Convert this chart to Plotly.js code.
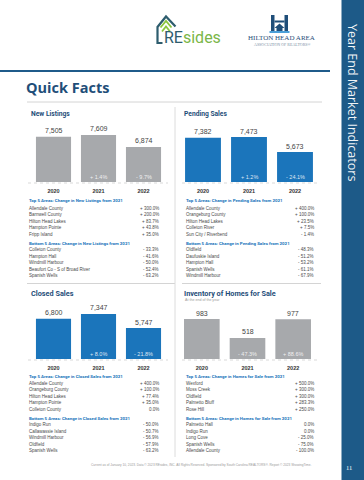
<!DOCTYPE html>
<html><head><meta charset="utf-8">
<script src="https://cdn.plot.ly/plotly-3.0.1.min.js"></script>
<style>html,body{margin:0;padding:0;background:#fff}#chart{width:364px;height:480px}</style>
</head><body><div id="chart"></div><script>
// ---------- DATA ----------
const years = ['2020', '2021', '2022'];
const newListings = [7505, 7609, 6874];
const newListingsChange = ['', '+ 1.4%', '- 9.7%'];
const pendingSales = [7382, 7473, 5673];
const pendingSalesChange = ['', '+ 1.2%', '- 24.1%'];
const closedSales = [6800, 7347, 5747];
const closedSalesChange = ['', '+ 8.0%', '- 21.8%'];
const inventory = [983, 518, 977];
const inventoryChange = ['', '- 47.3%', '+ 88.6%'];

const nlTopHeader = 'Top 5 Areas: Change in New Listings from 2021';
const nlTopAreas = ['Allendale County', 'Barnwell County', 'Hilton Head Lakes', 'Hampton Pointe', 'Fripp Island'];
const nlTopChanges = ['+ 300.0%', '+ 200.0%', '+ 83.7%', '+ 43.8%', '+ 35.0%'];
const nlBottomHeader = 'Bottom 5 Areas: Change in New Listings from 2021';
const nlBottomAreas = ['Colleton County', 'Hampton Hall', 'Windmill Harbour', 'Beaufort Co - S of Broad River', 'Spanish Wells'];
const nlBottomChanges = ['- 33.3%', '- 41.6%', '- 50.0%', '- 52.4%', '- 63.2%'];

const psTopHeader = 'Top 5 Areas: Change in Pending Sales from 2021';
const psTopAreas = ['Allendale County', 'Orangeburg County', 'Hilton Head Lakes', 'Colleton River', 'Sun City / Riverbend'];
const psTopChanges = ['+ 400.0%', '+ 100.0%', '+ 23.5%', '+ 7.5%', '- 1.4%'];
const psBottomHeader = 'Bottom 5 Areas: Change in Pending Sales from 2021';
const psBottomAreas = ['Oldfield', 'Daufuskie Island', 'Hampton Hall', 'Spanish Wells', 'Windmill Harbour'];
const psBottomChanges = ['- 48.3%', '- 51.2%', '- 53.2%', '- 61.1%', '- 67.9%'];

const csTopHeader = 'Top 5 Areas: Change in Closed Sales from 2021';
const csTopAreas = ['Allendale County', 'Orangeburg County', 'Hilton Head Lakes', 'Hampton Pointe', 'Colleton County'];
const csTopChanges = ['+ 400.0%', '+ 100.0%', '+ 77.4%', '+ 35.0%', '0.0%'];
const csBottomHeader = 'Bottom 5 Areas: Change in Closed Sales from 2021';
const csBottomAreas = ['Indigo Run', 'Callawassie Island', 'Windmill Harbour', 'Oldfield', 'Spanish Wells'];
const csBottomChanges = ['- 50.0%', '- 50.7%', '- 56.9%', '- 57.9%', '- 63.2%'];

const invTopHeader = 'Top 5 Areas: Change in Homes for Sale from 2021';
const invTopAreas = ['Wexford', 'Moss Creek', 'Oldfield', 'Palmetto Bluff', 'Rose Hill'];
const invTopChanges = ['+ 500.0%', '+ 300.0%', '+ 300.0%', '+ 283.3%', '+ 250.0%'];
const invBottomHeader = 'Bottom 5 Areas: Change in Homes for Sale from 2021';
const invBottomAreas = ['Palmetto Hall', 'Indigo Run', 'Long Cove', 'Spanish Wells', 'Allendale County'];
const invBottomChanges = ['0.0%', '0.0%', '- 25.0%', '- 75.0%', '- 100.0%'];

// ---------- STYLE / LAYOUT HELPERS ----------
const W = 364, H = 480;
const px = x => x / W;
const py = y => 1 - y / H;
const GRAY = '#a7a9ac', BLUE = '#1b75bb', NAVY = '#1f4e79', BAND = '#1d5a88';
const FONT = 'Liberation Sans, Arial, sans-serif';
const COND = 'Roboto, Liberation Sans, sans-serif';

function bar(yv, color, xa, ya) {
  return {type: 'bar', x: years, y: yv, xaxis: xa, yaxis: ya, marker: {color: color},
          hoverinfo: 'skip', showlegend: false};
}
const data = [
  bar(newListings, GRAY, 'x', 'y'),
  bar(pendingSales, BLUE, 'x2', 'y2'),
  bar(closedSales, BLUE, 'x3', 'y3'),
  bar(inventory, GRAY, 'x4', 'y4')
];

function xax(x0, x1, anchor) {
  return {domain: [px(x0), px(x1)], anchor: anchor, type: 'category',
          categoryorder: 'array', categoryarray: years, range: [-0.5, years.length - 0.5], autorange: false,
          showgrid: false, zeroline: false, showline: false, ticks: 'outside', ticklen: 3,
          tickcolor: 'rgba(0,0,0,0)', fixedrange: true,
          tickfont: {family: FONT, size: 5.5, color: '#333', weight: 'bold'}};
}
function yax(top, bottom, range, anchor) {
  return {domain: [py(bottom), py(top)], anchor: anchor, range: range, visible: false, fixedrange: true};
}

const annotations = [];
const shapes = [];

// category axes: annotation x given as the category's serial number
function barLabels(vals, changes, xa, ya) {
  vals.forEach((v, i) => {
    annotations.push({xref: xa, yref: ya, x: i, y: v, text: v.toLocaleString('en-US'),
      showarrow: false, yanchor: 'bottom', yshift: 0.5, font: {family: FONT, size: 7, color: '#444'}});
    if (changes[i]) annotations.push({xref: xa, yref: ya + ' domain', x: i, y: 0,
      text: changes[i], showarrow: false, yanchor: 'bottom', yshift: 0.5,
      font: {family: FONT, size: 5.5, color: 'rgba(255,255,255,0.85)'}});
  });
}
barLabels(newListings, newListingsChange, 'x', 'y');
barLabels(pendingSales, pendingSalesChange, 'x2', 'y2');
barLabels(closedSales, closedSalesChange, 'x3', 'y3');
barLabels(inventory, inventoryChange, 'x4', 'y4');

function txt(x, y, text, size, color, opts) {
  annotations.push(Object.assign({xref: 'paper', yref: 'paper', x: px(x), y: py(y), text: text,
    showarrow: false, xanchor: 'left', yanchor: 'middle', borderpad: 0,
    font: {family: FONT, size: size, color: color}}, opts || {}));
}

function table(x0, x1, y0, th, ta, tc, bh, ba, bc) {
  const hf = {family: COND, size: 4.4, color: BLUE, weight: 'bold'};
  txt(x0, y0, th, 4.4, BLUE, {font: hf});
  ta.forEach((a, i) => {
    txt(x0, y0 + 7 + i * 6.5, a, 4.5, '#4a4a4a');
    txt(x1, y0 + 7 + i * 6.5, tc[i], 4.5, '#4a4a4a', {xanchor: 'right'});
  });
  txt(x0, y0 + 42, bh, 4.4, BLUE, {font: hf});
  ba.forEach((a, i) => {
    txt(x0, y0 + 48.5 + i * 6.5, a, 4.5, '#4a4a4a');
    txt(x1, y0 + 48.5 + i * 6.5, bc[i], 4.5, '#4a4a4a', {xanchor: 'right'});
  });
}
table(28, 160, 201, nlTopHeader, nlTopAreas, nlTopChanges, nlBottomHeader, nlBottomAreas, nlBottomChanges);
table(184.5, 315, 201, psTopHeader, psTopAreas, psTopChanges, psBottomHeader, psBottomAreas, psBottomChanges);
table(28, 160, 376, csTopHeader, csTopAreas, csTopChanges, csBottomHeader, csBottomAreas, csBottomChanges);
table(184.5, 315, 376, invTopHeader, invTopAreas, invTopChanges, invBottomHeader, invBottomAreas, invBottomChanges);

// titles
const tfont = s => ({font: {family: COND, size: s, color: NAVY, weight: 'bold'}});
txt(24.5, 87, '<b>Quick Facts</b>', 14.5, NAVY, {font: {family: 'Open Sans, sans-serif', size: 14.5, color: NAVY}});
txt(30, 113.5, 'New Listings', 6.7, NAVY, tfont(6.7));
txt(183, 113.5, 'Pending Sales', 6.7, NAVY, tfont(6.7));
txt(30, 293, 'Closed Sales', 7.3, NAVY, tfont(7.3));
txt(183, 293, 'Inventory of Homes for Sale', 7.3, NAVY, tfont(7.3));
txt(184, 300, 'At the end of the year', 3.6, '#999');
txt(201, 465, 'Current as of January 10, 2023. Data © 2023 REsides, INC. All Rights Reserved. Sponsored by South Carolina REALTORS®. Report © 2023 ShowingTime.', 3.2, '#999', {xanchor: 'center'});

// right band
shapes.push({type: 'rect', xref: 'paper', yref: 'paper', x0: px(341.5), x1: 1, y0: 0, y1: 1, fillcolor: BAND, line: {width: 0}});
txt(353, 102, 'Year End Market Indicators', 12.5, '#fff', {xanchor: 'center', textangle: 90,
  font: {family: 'Open Sans, sans-serif', size: 12.5, color: 'rgba(255,255,255,0.95)'}});
txt(348.5, 467, '11', 6.5, '#fff', {xanchor: 'center', font: {family: 'Liberation Serif, serif', size: 6.5, color: '#fff'}});

// rules
function hline(x0, x1, y, color, w, dash) {
  shapes.push({type: 'line', xref: 'paper', yref: 'paper', x0: px(x0), x1: px(x1), y0: py(y), y1: py(y),
    line: {color: color, width: w, dash: dash || 'solid'}});
}
hline(0, 330, 71, '#1f5b8a', 2);
hline(27, 322, 102, '#d4d4d4', 1);
hline(27, 175, 283.5, '#d4d4d4', 1);
hline(182, 321, 283.5, '#d4d4d4', 1);
shapes.push({type: 'line', xref: 'paper', yref: 'paper', x0: px(175), x1: px(175), y0: py(107), y1: py(457),
  line: {color: '#dcdcdc', width: 1}});
hline(28, 168, 183, '#cfcfcf', 0.8, 'dot');
hline(182, 319, 183, '#cfcfcf', 0.8, 'dot');
hline(28, 168, 360, '#cfcfcf', 0.8, 'dot');
hline(182, 319, 360, '#cfcfcf', 0.8, 'dot');

// logos
function path(pts, close) {
  return pts.map((p, i) => (i ? 'L' : 'M') + px(p[0]).toFixed(5) + ',' + py(p[1]).toFixed(5)).join(' ') + (close ? ' Z' : '');
}
function pshape(pts, close, line, fill) {
  shapes.push({type: 'path', xref: 'paper', yref: 'paper', path: path(pts, close),
    line: line, fillcolor: fill || 'rgba(0,0,0,0)'});
}
pshape([[162.5, 43], [157.5, 43], [157.5, 27], [166, 16.5], [175.5, 26.5]], false, {color: '#2e5d6e', width: 2.2});
pshape([[160.5, 27.5], [166, 21], [171.5, 27.5]], false, {color: '#8cc63f', width: 1.8});
pshape([[162, 31.5], [166, 26.5], [170, 31.5]], false, {color: '#8cc63f', width: 1.8});
txt(162.5, 37.5, '<span style="color:#2e5d6e">RE</span><span style="color:#7ab648">sides</span>', 16, '#2e5d6e',
  {font: {family: 'Roboto, sans-serif', size: 16, color: '#2e5d6e'}});
// Hilton Head icon
shapes.push({type: 'rect', xref: 'paper', yref: 'paper', x0: px(271), x1: px(274.5), y0: py(31), y1: py(15), fillcolor: NAVY, line: {width: 0}});
shapes.push({type: 'rect', xref: 'paper', yref: 'paper', x0: px(284.5), x1: px(288), y0: py(31), y1: py(15), fillcolor: NAVY, line: {width: 0}});
shapes.push({type: 'rect', xref: 'paper', yref: 'paper', x0: px(274.5), x1: px(284.5), y0: py(22.5), y1: py(20.5), fillcolor: NAVY, line: {width: 0}});
pshape([[274.5, 28], [279.5, 23.5], [284.5, 28], [282.5, 28], [282.5, 31], [276.5, 31], [276.5, 28]], true, {width: 0}, NAVY);
shapes.push({type: 'rect', xref: 'paper', yref: 'paper', x0: px(269.5), x1: px(289.5), y0: py(33), y1: py(31), fillcolor: '#4a9fd8', line: {width: 0}});
txt(281, 38, 'HILTON HEAD AREA', 7, NAVY, {xanchor: 'center', font: {family: 'Liberation Serif, serif', size: 7, color: NAVY}});
txt(282, 44, 'ASSOCIATION OF REALTORS®', 4, '#7a8fa6', {xanchor: 'center', font: {family: 'Liberation Serif, serif', size: 4, color: '#7a8fa6'}});

const layout = {
  width: W, height: H, margin: {l: 0, r: 0, t: 0, b: 0},
  paper_bgcolor: '#fff', plot_bgcolor: 'rgba(0,0,0,0)',
  font: {family: FONT}, showlegend: false, bargap: 0.22,
  xaxis: xax(31, 166, 'y'), yaxis: yax(125, 182, [4730, 8221], 'x'),
  xaxis2: xax(180, 318, 'y2'), yaxis2: yax(125, 182, [2073, 8913], 'x2'),
  xaxis3: xax(31, 166, 'y3'), yaxis3: yax(302, 359, [2213, 8711], 'x3'),
  xaxis4: xax(179, 316, 'y4'), yaxis4: yax(302, 359, [0, 1402], 'x4'),
  annotations: annotations, shapes: shapes
};
Plotly.newPlot('chart', data, layout, {staticPlot: true, displayModeBar: false});
</script></body></html>
